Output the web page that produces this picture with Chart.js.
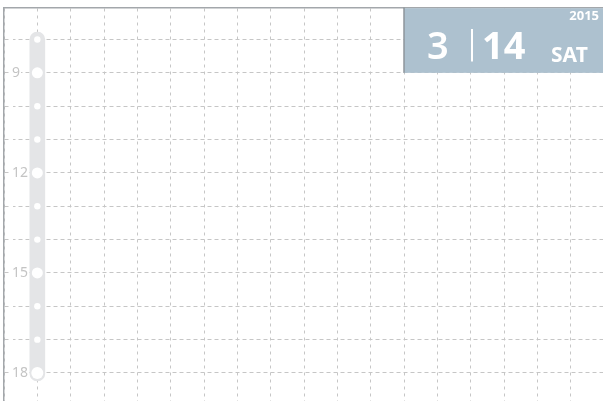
<!DOCTYPE html>
<html>
<head>
<meta charset="utf-8">
<script src="https://cdn.jsdelivr.net/npm/chart.js@4/dist/chart.umd.min.js"></script>
<style>
  html, body { margin: 0; padding: 0; background: #fff; }
  #wrap { width: 603px; height: 401px; }
</style>
</head>
<body>
<div id="wrap"><canvas id="planner"></canvas></div>
<script>
// hour rows of the planner page
const hours = [8, 9, 10, 11, 12, 13, 14, 15, 16, 17, 18];
const hourLabels = ['', '9', '', '', '12', '', '', '15', '', '', '18'];
// grid columns
const columns = [0, 1, 2, 3, 4, 5, 6, 7, 8, 9, 10, 11, 12, 13, 14, 15, 16, 17];
// timeline dots (big ones every 3 hours)
const dotSizes = [3.2, 5.5, 3.2, 3.2, 5.5, 3.2, 3.2, 5.5, 3.2, 3.2, 6];
const timelineColumn = 1;
const timelineRange = [7.78, 18.24];
// date header
const dateYear = '2015';
const dateMonth = '3';
const dateDay = '14';
const dateWeekday = 'SAT';

const dateBox = {
    id: 'dateBox',
    afterDraw(chart) {
        const ctx = chart.ctx;
        const xs = chart.scales.x, ys = chart.scales.y;
        const left = xs.getPixelForValue(12);
        const right = chart.width;
        const top = chart.chartArea.top;
        const bottom = ys.getPixelForValue(9);

        ctx.save();
        ctx.fillStyle = '#adc1cf';
        ctx.fillRect(left, top + 0.75, right - left, bottom - top - 0.75);
        ctx.strokeStyle = '#8e959b';
        ctx.lineWidth = 1.5;
        ctx.beginPath();
        ctx.moveTo(left, top);
        ctx.lineTo(left, bottom);
        ctx.stroke();

        ctx.fillStyle = '#ffffff';
        ctx.textBaseline = 'alphabetic';
        ctx.font = 'bold 13px "Noto Sans"';
        ctx.textAlign = 'right';
        ctx.fillText(dateYear, 599, 20);

        ctx.textAlign = 'left';
        ctx.font = '600 38px "Noto Sans"';
        ctx.fillText(dateMonth, left + 23, 58.7);
        ctx.font = 'bold 38px "Noto Sans"';
        ctx.fillText(dateDay, left + 78, 58.7);
        ctx.font = 'bold 21px "Noto Sans"';
        ctx.fillText(dateWeekday, left + 147, 62);

        ctx.strokeStyle = '#ffffff';
        ctx.lineWidth = 2;
        ctx.beginPath();
        ctx.moveTo(left + 68, 29);
        ctx.lineTo(left + 68, 61.5);
        ctx.stroke();
        ctx.restore();
    }
};

const config = {
    data: {
        datasets: [{
            type: 'bar',
            data: [{ x: timelineColumn, y: timelineRange }],
            backgroundColor: '#e4e5e7',
            borderWidth: 0,
            borderRadius: 8,
            borderSkipped: false,
            barThickness: 15,
            order: 2
        }, {
            type: 'scatter',
            data: hours.map(h => ({ x: timelineColumn, y: h })),
            backgroundColor: '#ffffff',
            borderWidth: 0,
            pointRadius: dotSizes,
            pointHoverRadius: dotSizes,
            order: 1
        }]
    },
    options: {
        responsive: true,
        maintainAspectRatio: false,
        animation: false,
        events: [],
        layout: { autoPadding: false, padding: { top: 7.5, left: 4, right: 0, bottom: 0 } },
        plugins: { legend: { display: false }, tooltip: { enabled: false } },
        scales: {
            x: {
                type: 'linear',
                position: 'top',
                offset: false,
                min: 0,
                max: 17.97,
                afterBuildTicks: s => { s.ticks = columns.map(v => ({ value: v })); },
                ticks: { display: false },
                grid: { color: '#c6c6c6', lineWidth: 1, drawTicks: false, offset: false },
                border: { display: true, color: '#a3a7ab', width: 1.5, dash: [3, 4] }
            },
            y: {
                type: 'linear',
                reverse: true,
                min: 7.04,
                max: 18.84,
                afterBuildTicks: s => { s.ticks = hours.map(v => ({ value: v })); },
                afterFit: s => { s.width = 0; s.paddingTop = 0; s.paddingBottom = 0; },
                ticks: {
                    callback: (v, i) => hourLabels[i],
                    color: '#c4c4c4',
                    font: { family: '"Noto Sans"', size: 14 },
                    mirror: true,
                    padding: 8,
                    showLabelBackdrop: true,
                    backdropColor: '#ffffff',
                    backdropPadding: { top: 0, bottom: 0, left: 1, right: 1 }
                },
                grid: { color: '#c6c6c6', lineWidth: 1, drawTicks: false },
                border: { display: true, color: '#a3a7ab', width: 1.5, dash: [4, 3] }
            }
        }
    },
    plugins: [dateBox]
};

window.onload = function () {
    const ctx = document.getElementById('planner').getContext('2d');
    window.myChart = new Chart(ctx, config);
};
</script>
</body>
</html>
